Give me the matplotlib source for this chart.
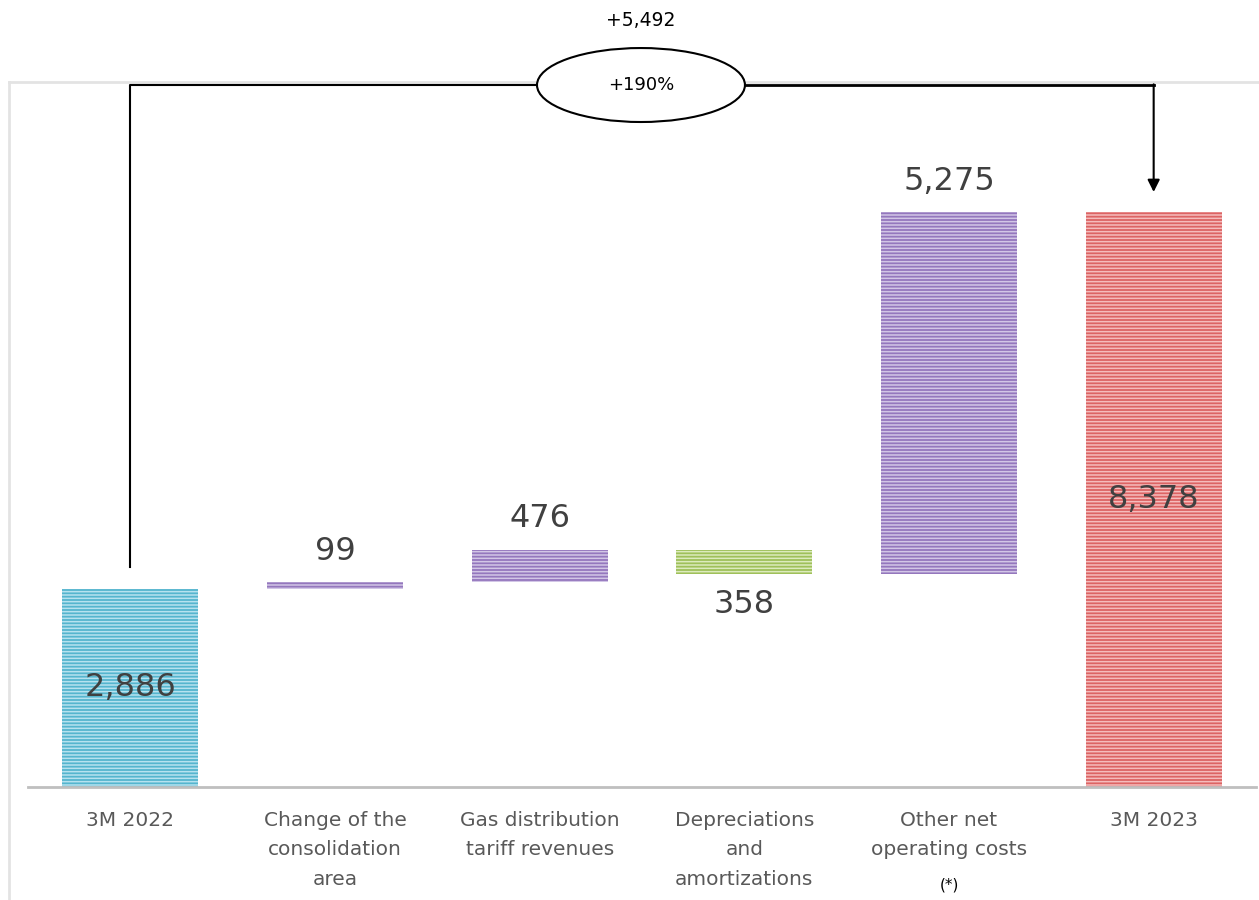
import matplotlib
matplotlib.use("Agg")
import matplotlib.pyplot as plt
from matplotlib.patches import Ellipse
from matplotlib.lines import Line2D

categories = ["3M 2022", "Change of the\nconsolidation\narea", "Gas distribution\ntariff revenues",
              "Depreciations\nand\namortizations", "Other net\noperating costs", "3M 2023"]
start_value = 2886
changes = [99, 476, -358, 5275]
end_value = 8378
value_labels = ["2,886", "99", "476", "358", "5,275", "8,378"]
delta_label = "+5,492"
pct_label = "+190%"

base_col = ["#55b5ce", "#9477bd", "#9477bd", "#9fc05a", "#9477bd", "#dc6464"]
stripe_col = ["#b6e2ef", "#d2c6e6", "#d2c6e6", "#dcebbd", "#d2c6e6", "#f5bcbc"]

plt.rcParams["font.family"] = ["DejaVu Sans"]
plt.rcParams["hatch.linewidth"] = 1.1

fig = plt.figure(figsize=(12.59, 9), dpi=100)
ax = fig.add_axes([28 / 1259, 113 / 900, 1228 / 1259, 705 / 900])
ax.set_zorder(1)
ax.patch.set_alpha(0)

# waterfall bottoms / heights
bottoms, heights = [0], [start_value]
level = start_value
for c in changes:
    if c >= 0:
        bottoms.append(level)
        heights.append(c)
    else:
        bottoms.append(level + c)
        heights.append(-c)
    level += c
bottoms.append(0)
heights.append(end_value)

x = list(range(len(categories)))
w = 0.664
ax.bar(x, heights, bottom=bottoms, width=w, color=base_col, edgecolor="none", zorder=2)
for i in x:
    ax.bar(i, heights[i], bottom=bottoms[i], width=w, facecolor="none", edgecolor=stripe_col[i],
           linewidth=0, hatch="-----", zorder=3)

ax.set_xlim(-0.5, 5.5)
ax.set_ylim(0, 10274)
for s in ["top", "right", "left"]:
    ax.spines[s].set_visible(False)
ax.spines["bottom"].set_color("#bfbfbf")
ax.spines["bottom"].set_linewidth(2)
ax.set_yticks([])
ax.set_xticks(x)
ax.set_xticklabels(categories, fontsize=14.5, color="#595959", va="top")
for t in ax.get_xticklabels():
    t.set_linespacing(1.72)
ax.tick_params(axis="x", length=0, pad=17)

lab_kw = dict(ha="center", va="center", fontsize=23, color="#404040", zorder=5)
ax.text(0, start_value / 2, value_labels[0], **lab_kw)
ax.text(5, end_value / 2, value_labels[5], **lab_kw)
for i in range(1, 5):
    if changes[i - 1] >= 0:
        ax.annotate(value_labels[i], (i, bottoms[i] + heights[i]), xytext=(0, 22),
                    textcoords="offset points", **lab_kw)
    else:
        ax.annotate(value_labels[i], (i, bottoms[i]), xytext=(0, -22),
                    textcoords="offset points", **lab_kw)
ax.text(4, -1430, "(*)", ha="center", va="center", fontsize=11, color="black")

# bracket connecting first and last bar
top_y = 10230
ex, ew, eh = 2.495, 1.016, 1078
ax.plot([0, 0, ex - ew / 2], [3206, top_y, top_y], color="black", lw=1.5, clip_on=False, zorder=4)
ax.plot([ex + ew / 2, 5], [top_y, top_y], color="black", lw=2, clip_on=False, zorder=4)
ax.annotate("", xy=(5, 8671), xytext=(5, top_y + 10),
            arrowprops=dict(arrowstyle="-|>", color="black", lw=1.5, mutation_scale=18,
                            shrinkA=0, shrinkB=0), annotation_clip=False)
ax.add_patch(Ellipse((ex, top_y), ew, eh, facecolor="white", edgecolor="black", lw=1.5,
                     clip_on=False, zorder=5))
ax.text(ex, top_y, pct_label, ha="center", va="center", fontsize=13, color="black", zorder=6)
ax.text(ex, 11177, delta_label, ha="center", va="center", fontsize=13.5, color="black", clip_on=False)

# light frame around the chart area
fig.add_artist(Line2D([9 / 1259, 1], [1 - 82 / 900] * 2, color="#e3e3e3", lw=2, zorder=0))
fig.add_artist(Line2D([9 / 1259] * 2, [0, 1 - 82 / 900], color="#e3e3e3", lw=2, zorder=0))

fig.savefig("out.png", dpi=100)
